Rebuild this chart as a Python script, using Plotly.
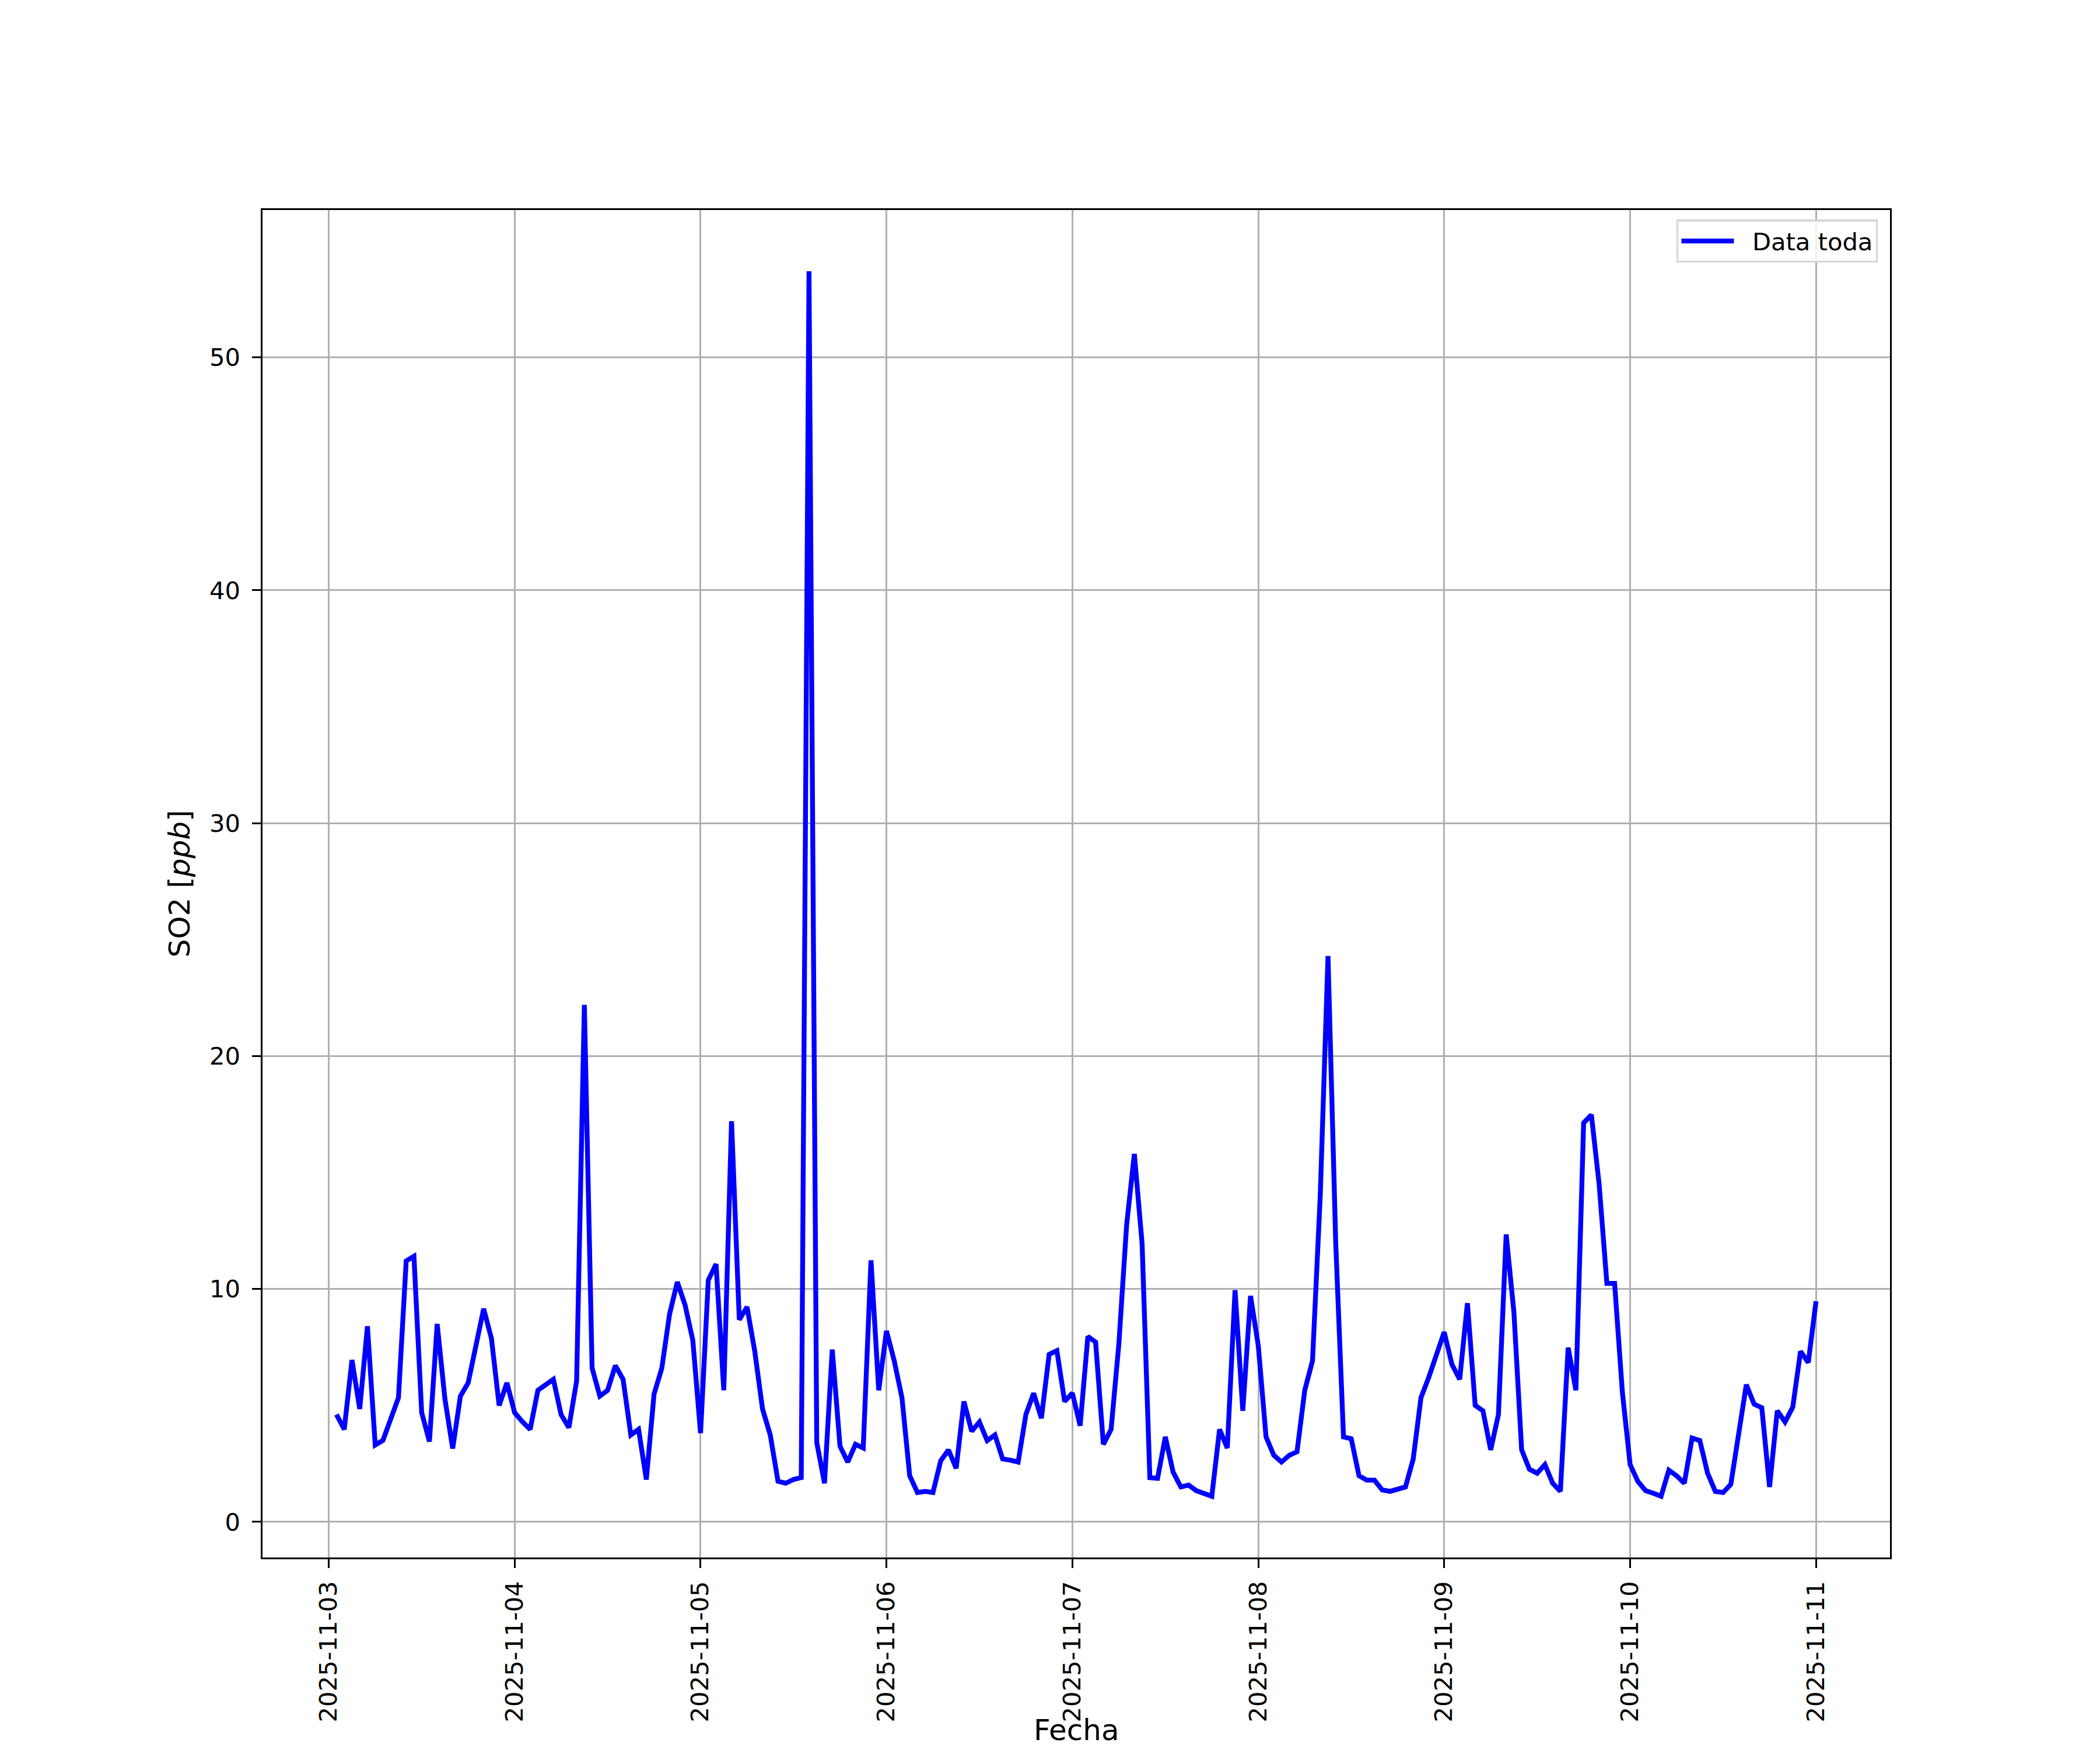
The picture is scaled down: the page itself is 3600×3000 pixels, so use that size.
import pandas as pd
import plotly.graph_objects as go

# SO2 hourly readings [ppb], one list per day (01:00 .. 24:00)
so_nov03 = [4.61, 3.97, 6.95, 4.85, 8.4, 3.3, 3.5, 4.4, 5.33, 11.2, 11.4, 4.69,
            3.45, 8.5, 5.28, 3.15, 5.4, 5.97, 7.48, 9.15, 7.88, 5.0, 5.97, 4.69]
so_nov04 = [4.3, 3.97, 5.65, 5.88, 6.12, 4.6, 4.05, 6.05, 22.2, 6.6, 5.4, 5.65,
            6.71, 6.12, 3.73, 3.97, 1.82, 5.49, 6.6, 8.92, 10.3, 9.31, 7.8, 3.81]
so_nov05 = [10.38, 11.07, 5.65, 17.2, 8.68, 9.23, 7.32, 4.85, 3.73, 1.74, 1.66, 1.82,
            1.9, 53.7, 3.41, 1.66, 7.4, 3.25, 2.57, 3.33, 3.17, 11.23, 5.65, 8.2]
so_nov06 = [6.92, 5.33, 1.98, 1.26, 1.31, 1.26, 2.62, 3.09, 2.3, 5.17, 3.89, 4.29,
            3.49, 3.73, 2.7, 2.65, 2.57, 4.61, 5.52, 4.45, 7.19, 7.35, 5.17, 5.53]
so_nov07 = [4.13, 7.96, 7.72, 3.33, 3.97, 7.64, 12.74, 15.8, 11.95, 1.9, 1.87, 3.65,
            2.14, 1.5, 1.58, 1.34, 1.23, 1.1, 3.97, 3.17, 9.95, 4.77, 9.7, 7.56]
so_nov08 = [3.65, 2.86, 2.57, 2.86, 3.01, 5.65, 6.92, 14.02, 24.3, 11.95, 3.65, 3.57,
            1.98, 1.79, 1.79, 1.37, 1.31, 1.42, 1.5, 2.7, 5.33, 6.2, 7.24, 8.15]
so_nov09 = [6.76, 6.12, 9.39, 5.0, 4.77, 3.09, 4.61, 12.34, 9.0, 3.09, 2.26, 2.09,
            2.46, 1.66, 1.31, 7.48, 5.65, 17.13, 17.48, 14.5, 10.24, 10.24, 5.57, 2.46]
so_nov10 = [1.74, 1.34, 1.23, 1.1, 2.22, 1.98, 1.66, 3.6, 3.49, 2.09, 1.31, 1.26,
            1.61, 3.7, 5.89, 5.06, 4.9, 1.5, 4.77, 4.29, 4.93, 7.32, 6.84, 9.47]

so2 = so_nov03 + so_nov04 + so_nov05 + so_nov06 + so_nov07 + so_nov08 + so_nov09 + so_nov10
fechas = pd.date_range("2025-11-03 01:00", periods=len(so2), freq="h")

# matplotlib-like 5% auto margins
y_span = max(so2) - min(so2)
y_range = [min(so2) - 0.05 * y_span, max(so2) + 0.05 * y_span]
x_span = fechas[-1] - fechas[0]
x_range = [fechas[0] - 0.05 * x_span, fechas[-1] + 0.05 * x_span]

PT = 300 / 72  # px per pt at 300 dpi

fig = go.Figure()
fig.add_trace(
    go.Scatter(
        x=fechas,
        y=so2,
        mode="lines",
        name="&nbsp;&nbsp;Data toda",
        line=dict(color="#0000ff", width=2 * PT),
    )
)

_ax = dict(
    showline=True,
    mirror=True,
    linecolor="black",
    linewidth=0.8 * PT,
    showgrid=True,
    gridcolor="#b0b0b0",
    gridwidth=0.8 * PT,
    zeroline=False,
    ticks="outside",
    ticklen=3.5 * PT,
    tickwidth=0.8 * PT,
    tickcolor="black",
    tickfont=dict(size=10 * PT, color="black"),
    title_font=dict(size=12 * PT, color="black"),
)

fig.update_xaxes(
    range=x_range,
    tick0="2025-11-03",
    dtick=86400000,
    tickformat="%Y-%m-%d",
    tickangle=-90,
    ticklabelstandoff=6,
    **_ax,
)
fig.update_yaxes(
    range=y_range,
    tick0=0,
    dtick=10,
    ticklabelstandoff=12,
    title_text="SO2 [<i>ppb</i>]",
    title_standoff=18,
    **_ax,
)

# x-axis title placed below the rotated tick labels (axis title gets clamped by the margin)
fig.add_annotation(
    xref="paper",
    yref="paper",
    x=0.5,
    y=-0.128,
    text="Fecha",
    showarrow=False,
    xanchor="center",
    yanchor="middle",
    font=dict(size=12 * PT, color="black"),
)

# page body adds an 8px offset at top-left
fig.update_layout(
    width=3584,
    height=2992,
    font=dict(family="DejaVu Sans", color="black"),
    plot_bgcolor="white",
    paper_bgcolor="white",
    margin=dict(l=442, r=352, t=352, b=330, autoexpand=False),
    showlegend=True,
    legend=dict(
        x=0.9925,
        y=0.993,
        xanchor="right",
        yanchor="top",
        bgcolor="rgba(255,255,255,0.8)",
        bordercolor="#d6d6d6",
        borderwidth=0.8 * PT,
        font=dict(size=10 * PT, color="black"),
        itemwidth=90,
    ),
)

fig.write_html("out.html")
